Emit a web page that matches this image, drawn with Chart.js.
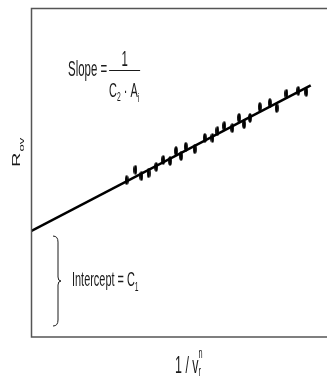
<!DOCTYPE html>
<html>
<head>
<meta charset="utf-8">
<script src="https://cdn.jsdelivr.net/npm/chart.js@4/dist/chart.umd.min.js"></script>
<style>
  html, body { margin: 0; padding: 0; background: #fff; }
  #wrap { position: relative; width: 332px; height: 378px; }
</style>
</head>
<body>
<div id="wrap"><canvas id="chart"></canvas></div>
<script>
// measured points: 1 / v_r^n against R_ov
const invSpeed = [3.23, 3.53, 3.73, 3.97, 4.23, 4.47, 4.70, 4.90, 5.07, 5.23, 5.53, 5.87, 6.13,
                  6.30, 6.53, 6.80, 7.03, 7.20, 7.40, 7.73, 8.07, 8.30, 8.63, 9.03, 9.30];
const resistance = [4.77, 5.08, 4.89, 4.98, 5.17, 5.38, 5.35, 5.65, 5.50, 5.78, 5.71, 6.05, 6.05,
                    6.26, 6.41, 6.35, 6.66, 6.47, 6.66, 6.99, 7.11, 6.96, 7.39, 7.48, 7.45];
// ends of the fitted straight line
const fitX = [0, 9.45];
const fitY = [3.22, 7.65];

const FONT = '"Liberation Sans", Arial, sans-serif';
const SQ = 0.52;          // narrow lettering
const INK = '#1a1a1a';

// small upright oval used as the point marker
const dot = document.createElement('canvas');
dot.width = 4; dot.height = 10;
const dc = dot.getContext('2d');
dc.fillStyle = '#000';
dc.beginPath();
dc.ellipse(2, 5, 1.9, 4.8, 0, 0, Math.PI * 2);
dc.fill();

// draw a row of text pieces (with sub/superscripts), returns end x
function run(ctx, x, y, parts) {
  parts.forEach(p => {
    ctx.font = p.size + 'px ' + FONT;
    ctx.save();
    ctx.translate(x, y + (p.dy || 0));
    ctx.scale(SQ, 1);
    ctx.fillText(p.t, 0, 0);
    ctx.restore();
    x += ctx.measureText(p.t).width * SQ;
  });
  return x;
}

const decorations = {
  id: 'decorations',
  afterDraw(chart) {
    const ctx = chart.ctx;
    const a = chart.chartArea;
    const ys = chart.scales.y;

    // frame: top, left, bottom
    ctx.save();
    ctx.strokeStyle = '#555';
    ctx.lineWidth = 1.5;
    ctx.beginPath();
    ctx.moveTo(a.right, a.top + 0.5);
    ctx.lineTo(a.left + 0.5, a.top + 0.5);
    ctx.lineTo(a.left + 0.5, a.bottom);
    ctx.lineTo(a.right, a.bottom);
    ctx.stroke();
    ctx.restore();

    ctx.save();
    ctx.fillStyle = INK;
    ctx.textBaseline = 'alphabetic';

    // slope label
    const sx = a.left + 37, sy = a.top + 68;
    const eqEnd = run(ctx, sx, sy, [{ t: 'Slope =', size: 22 }]);
    const barL = eqEnd + 2, barR = barL + 31;
    ctx.fillRect(barL, sy - 6, barR - barL, 1);
    ctx.font = '22px ' + FONT;
    const oneW = ctx.measureText('1').width * SQ;
    run(ctx, (barL + barR) / 2 - oneW / 2, sy - 10, [{ t: '1', size: 22 }]);
    run(ctx, barL, sy + 21, [
      { t: 'C', size: 21 },
      { t: '2', size: 13, dy: 4 },
      { t: ' \u00b7 ', size: 21 },
      { t: 'A', size: 21 },
      { t: 'i', size: 13, dy: 5 }
    ]);

    // intercept brace
    const bTop = ys.getPixelForValue(fitY[0]) + 5;
    const bBot = ys.getPixelForValue(0) - 11;
    const bMid = (bTop + bBot) / 2;
    const bx = a.left + 27;
    ctx.strokeStyle = INK;
    ctx.lineWidth = 1;
    ctx.beginPath();
    ctx.moveTo(bx - 5, bTop);
    ctx.quadraticCurveTo(bx, bTop, bx, bTop + 6);
    ctx.lineTo(bx, bMid - 4);
    ctx.quadraticCurveTo(bx, bMid, bx + 3, bMid);
    ctx.quadraticCurveTo(bx, bMid, bx, bMid + 4);
    ctx.lineTo(bx, bBot - 6);
    ctx.quadraticCurveTo(bx, bBot, bx - 5, bBot);
    ctx.stroke();

    run(ctx, a.left + 41, bMid + 5, [
      { t: 'Intercept = C', size: 21 },
      { t: '1', size: 13, dy: 5 }
    ]);

    // y axis title, R_ov
    ctx.save();
    ctx.translate(20, 167);
    ctx.rotate(-Math.PI / 2);
    ctx.scale(1, SQ);
    ctx.font = '20px ' + FONT;
    ctx.fillText('R', 0, 0);
    const rW = ctx.measureText('R').width;
    ctx.font = '13px ' + FONT;
    ctx.fillText('ov', rW + 1, 4 / SQ);
    ctx.restore();

    // x axis title, 1 / v_r^n
    const tx = run(ctx, 175, 373, [{ t: '1 / v', size: 24 }]);
    run(ctx, tx, 376, [{ t: 'r', size: 14 }]);
    run(ctx, tx, 358, [{ t: 'n', size: 14 }]);

    ctx.restore();
  }
};

new Chart(document.getElementById('chart'), {
  type: 'scatter',
  data: {
    datasets: [
      {
        label: 'fit',
        data: fitX.map((x, i) => ({ x: x, y: fitY[i] })),
        showLine: true,
        borderColor: '#000',
        borderWidth: 2.5,
        pointRadius: 0,
        order: 2
      },
      {
        label: 'measured',
        data: invSpeed.map((x, i) => ({ x: x, y: resistance[i] })),
        pointStyle: dot,
        order: 1
      }
    ]
  },
  options: {
    responsive: true,
    maintainAspectRatio: false,
    animation: false,
    events: [],
    layout: { padding: { left: 31, top: 8, right: 0, bottom: 41 } },
    plugins: { legend: { display: false }, tooltip: { enabled: false } },
    scales: {
      x: { type: 'linear', min: 0, max: 10, display: false },
      y: { type: 'linear', min: 0, max: 10, display: false }
    }
  },
  plugins: [decorations]
});
</script>
</body>
</html>
